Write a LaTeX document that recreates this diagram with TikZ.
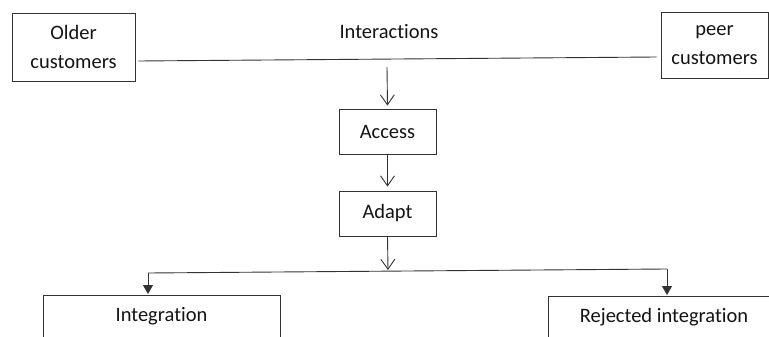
\documentclass[tikz,border=0pt]{standalone}
\usepackage{fontspec}
\setmainfont{Carlito}[RawFeature={-liga;-clig;-dlig;-calt}]
\usetikzlibrary{arrows.meta}
\begin{document}
\begin{tikzpicture}[x=1pt,y=-1pt,
  every node/.style={font=\fontsize{20.5}{28.5}\selectfont, text=black!92},
  box/.style={draw=black!80, line width=0.9pt, inner sep=0pt, align=center},
  link/.style={draw=black!80, line width=0.9pt},
  barb/.style={link, -{Straight Barb[length=10pt,width=14pt]}},
  tri/.style={link, -{Triangle[length=9pt,width=10pt]}}]
  \clip (0,0) rectangle (769,337);

  % source boxes and the interaction label
  \node[box, minimum width=123pt, minimum height=68pt] (older) at (73.5,47) {Older\\customers};
  \node[box, minimum width=107pt, minimum height=66pt] (peer) at (714.5,45) {peer\\customers};
  \node (inter) at (389,32) {Interactions};

  % process steps
  \node[box, minimum width=97pt, minimum height=45pt] (access) at (387.5,131.5) {Access};
  \node[box, minimum width=97pt, minimum height=45pt] (adapt) at (387.5,213.5) {Adapt};

  % outcomes (open at the bottom)
  \node[box, anchor=north, minimum width=237pt, text height=26pt, text depth=70pt] (integ) at (161.5,295) {Integration};
  \node[box, anchor=north, minimum width=232pt, text height=26pt, text depth=70pt] (rej) at (664,296) {Rejected integration};

  % interaction line between the customer groups
  \draw[link] ([xshift=3pt,yshift=-14pt]older.east) -- ([xshift=-4pt,yshift=-12pt]peer.west);

  % flow down
  \coordinate (ia) at (387,67);
  \draw[barb] (ia) -- ([yshift=3pt]access.north);
  \draw[barb] (access.south) -- ([yshift=4pt]adapt.north);
  \coordinate (sj) at (388,270);
  \draw[barb] (adapt.south) -- (sj);

  % split into the two outcomes
  \coordinate (sl) at (148,273);
  \coordinate (sr) at (667,269);
  \draw[link] (sl) -- (sr);
  \draw[tri] (sl) -- ([yshift=1pt]sl |- integ.north);
  \draw[tri] (sr) -- ([yshift=1pt]sr |- rej.north);
\end{tikzpicture}
\end{document}
